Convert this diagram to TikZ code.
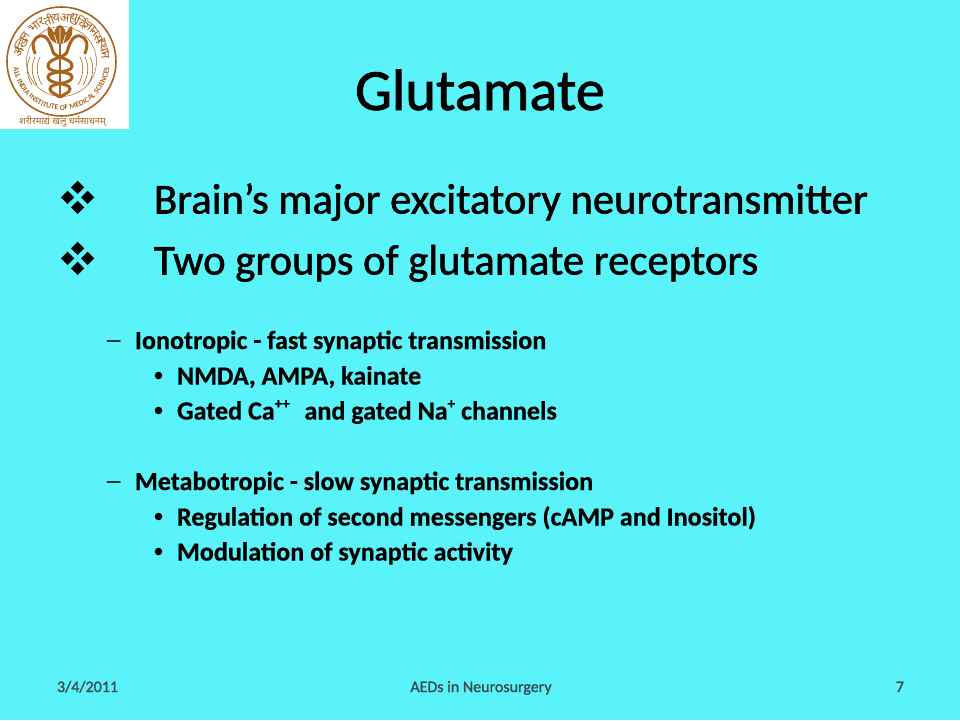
\documentclass[tikz,border=0pt]{standalone}
\usepackage{fontspec}
\setmainfont{Carlito}
\newfontfamily\heavyfont[FakeBold=1.3]{Carlito}
\newfontfamily\boldfont[FakeBold=0.5]{Carlito Bold}
\newfontfamily\footfont[FakeBold=1.2]{Carlito}
\newfontfamily\devfont[Script=Devanagari]{Noto Sans}
\usetikzlibrary{decorations.text}
\definecolor{slidebg}{HTML}{5AF3F9}
\definecolor{logobrown}{HTML}{A8641E}
\definecolor{footgray}{HTML}{3A4A50}
\tikzset{x=1pt,y=-1pt,
  txt/.style={anchor=base west,inner sep=0,outer sep=0,text=black},
  title/.style={txt,anchor=base,font=\heavyfont\fontsize{58.4}{58.4}\selectfont},
  lvlone/.style={txt,font=\heavyfont\fontsize{42.7}{42.7}\selectfont},
  lvltwo/.style={txt,font=\boldfont\fontsize{26.1}{26.1}\selectfont},
  dashmark/.style={txt,font=\heavyfont\fontsize{18}{18}\selectfont},
  foot/.style={txt,text=footgray,font=\footfont\fontsize{16}{16}\selectfont},
  diam/.style={fill=black,draw=none},
  logoline/.style={draw=logobrown,line width=3pt,line cap=round,fill=none},
  devchar/.style={inner sep=0,text=logobrown,font=\devfont\fontsize{12.5}{12.5}\selectfont}}
\newcommand{\fourdiamonds}[2]{%
  \foreach \dx/\dy in {0/-10,-10/0,10/0,0/10}{
    \fill[diam] (#1+\dx,#2+\dy-6.6) -- (#1+\dx+6.6,#2+\dy) -- (#1+\dx,#2+\dy+6.6) -- (#1+\dx-6.6,#2+\dy) -- cycle;
  }}
\newcommand{\upper}[1]{\raisebox{0.42em}{\fontsize{15}{15}\selectfont #1}}
\begin{document}
\begin{tikzpicture}
\useasboundingbox (0,0) rectangle (960,720);
\fill[slidebg] (0,0) rectangle (960,720);
% logo
\fill[white] (0,0) rectangle (129,129);
\draw[logobrown,line width=1.6pt] (61.5,61.5) circle (54.5);
\draw[logobrown,line width=.5pt] (61.5,61.5) circle (35);
\foreach \c/\a in {अ/-168,खि/-157,ल/-146,भा/-128,र/-117,ती/-107,य/-97,आ/-84,यु/-74,र्वि/-63,ज्ञा/-51,न/-41,सं/-31,स्था/-19,न/-8}{
  \node[devchar,rotate={-(\a+90)}] at ({61.5+44*cos(\a)},{61.5+44*sin(\a)}) {\c};
}
\begin{scope}[x=1pt,y=1pt]
\path[decorate,decoration={text along path,text align=center,
  text={|\fontsize{7.7}{7.7}\selectfont\bfseries\color{logobrown}|ALL INDIA INSTITUTE OF MEDICAL SCIENCES}}]
  ({61.5+48.5*cos(184)},{-61.5+48.5*sin(184)}) arc[start angle=184,end angle=356,radius=48.5];
\end{scope}
% lotus
\fill[logobrown] (60,44) .. controls (50,43) and (46,34) .. (48,26) .. controls (51,28) and (53,30) .. (54,33)
  .. controls (55,29) and (57,26) .. (60,25) .. controls (63,26) and (65,29) .. (66,33)
  .. controls (67,30) and (69,28) .. (72,26) .. controls (74,34) and (70,43) .. (60,44) -- cycle;
\draw[white,line width=.7pt] (60,28) -- (60,43) (54.5,35) -- (57,43) (65.5,35) -- (63,43);
% staff and snakes
\draw[logobrown,line width=1.6pt] (60,44) -- (60,98);
\draw[logoline] (35,53) .. controls (31,44) and (34,37) .. (40,36) .. controls (47,35) and (50,42) .. (53,52)
  .. controls (55,58) and (72,58) .. (72,66) .. controls (72,74) and (48,70) .. (48,77)
  .. controls (48,85) and (70,82) .. (70,89) .. controls (70,93) and (63,94) .. (61,97);
\draw[logoline] (85,53) .. controls (89,44) and (86,37) .. (80,36) .. controls (73,35) and (70,42) .. (67,52)
  .. controls (65,58) and (48,58) .. (48,66) .. controls (48,74) and (72,70) .. (72,77)
  .. controls (72,85) and (50,82) .. (50,89) .. controls (50,93) and (57,94) .. (59,97);
% radiating lines
\foreach \r in {23,28,33}{
  \draw[logobrown,line width=.6pt] ({60-\r+3},57) .. controls ({60-\r-1},65) and ({60-\r-1},75) .. ({60-\r+5},85);
  \draw[logobrown,line width=.6pt] ({60+\r-3},57) .. controls ({60+\r+1},65) and ({60+\r+1},75) .. ({60+\r-5},85);
}
\node[inner sep=0,text=logobrown,font=\devfont\bfseries\fontsize{9.4}{9.4}\selectfont] (motto) at (62.5,122) {शरीरमाद्यं खलु धर्मसाधनम्};
% title
\node[title] (ttl) at (480,110) {Glutamate};
% level 1
\fourdiamonds{77.6}{197.3}
\fourdiamonds{77.6}{258.3}
\node[lvlone] (a) at (154,213.5) {Brain’s major excitatory neurotransmitter};
\node[lvlone] (b) at (154,274.5) {Two groups of glutamate receptors};
% level 2
\node[dashmark] (c) at (105.5,346) {—};
\node[lvltwo] (d) at (135,349) {Ionotropic - fast synaptic transmission};
\fill[black] (158.5,375.5) circle (3.8);
\node[lvltwo] (f) at (177,384.5) {NMDA, AMPA, kainate};
\fill[black] (158.5,410.5) circle (3.8);
\node[lvltwo] (h) at (177,419.5) {Gated Ca\upper{++}\,\, and gated Na\upper{+} channels};
\node[dashmark] (i) at (105.5,487) {—};
\node[lvltwo] (j) at (135,490) {Metabotropic - slow synaptic transmission};
\fill[black] (158.5,516.5) circle (3.8);
\node[lvltwo] (l) at (177,525.5) {Regulation of second messengers (cAMP and Inositol)};
\fill[black] (158.5,551.5) circle (3.8);
\node[lvltwo] (n) at (177,560.5) {Modulation of synaptic activity};
% footer
\node[foot] (fa) at (57,692) {3/4/2011};
\node[foot,anchor=base] (fb) at (481,692) {AEDs in Neurosurgery};
\node[foot,anchor=base east] (fc) at (904,692) {7};
\end{tikzpicture}
\end{document}
